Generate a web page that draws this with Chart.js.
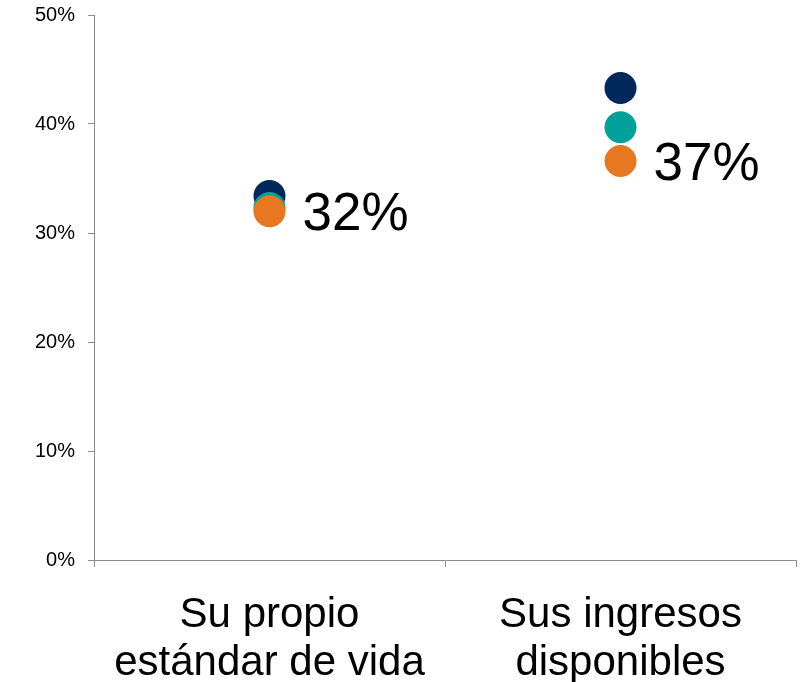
<!DOCTYPE html>
<html>
<head>
<meta charset="utf-8">
<script src="https://cdn.jsdelivr.net/npm/chart.js@4"></script>
<style>
  html, body { margin: 0; padding: 0; background: #fff; }
  #wrap { width: 805px; height: 682px; position: relative; }
</style>
</head>
<body>
<div id="wrap"><canvas id="c"></canvas></div>
<script>
const categories = [['Su propio', 'estándar de vida'], ['Sus ingresos', 'disponibles']];
const seriesNavy = [33.4, 43.3];
const seriesTeal = [32.3, 39.7];
const seriesOrange = [32.0, 36.6];
const labelValues = ['32%', '37%'];
const yTicks = [0, 10, 20, 30, 40, 50];

const FONT = "'Liberation Sans', Arial, sans-serif";

const dataLabelPlugin = {
  id: 'dataLabels',
  afterDatasetsDraw(chart) {
    const ctx = chart.ctx;
    const idx = chart.data.datasets.findIndex(d => d.id === 'orange');
    const meta = chart.getDatasetMeta(idx);
    ctx.save();
    ctx.font = '53px ' + FONT;
    ctx.fillStyle = '#000';
    ctx.textAlign = 'left';
    ctx.textBaseline = 'middle';
    meta.data.forEach((pt, i) => {
      ctx.fillText(labelValues[i], pt.x + 33, pt.y + 4);
    });
    ctx.restore();
  }
};

new Chart(document.getElementById('c'), {
  type: 'line',
  data: {
    labels: categories,
    datasets: [
      { id: 'navy', label: 'A', data: seriesNavy, backgroundColor: '#00285a', borderColor: '#00285a', order: 3 },
      { id: 'teal', label: 'B', data: seriesTeal, backgroundColor: '#00a09b', borderColor: '#00a09b', order: 2 },
      { id: 'orange', label: 'C', data: seriesOrange, backgroundColor: '#e87722', borderColor: '#e87722', order: 1 }
    ].map(d => Object.assign(d, { showLine: false, pointRadius: 16, pointHoverRadius: 16, pointBorderWidth: 0, pointBackgroundColor: d.backgroundColor, clip: false }))
  },
  options: {
    responsive: true,
    maintainAspectRatio: false,
    animation: false,
    events: [],
    layout: { autoPadding: false, padding: { top: 15, right: 9, left: 0, bottom: 0 } },
    plugins: { legend: { display: false }, tooltip: { enabled: false } },
    scales: {
      x: {
        offset: true,
        grid: { offset: true, drawOnChartArea: false, drawTicks: true, tickLength: 7, color: '#8c8c8c', lineWidth: 1 },
        border: { display: true, color: '#8c8c8c', width: 1 },
        ticks: { color: '#000', font: { family: FONT, size: 42, lineHeight: 1.13 }, padding: 25, maxRotation: 0, autoSkip: false },
        afterFit(scale) { scale.height = 122; scale.paddingLeft = 0; scale.paddingRight = 0; }
      },
      y: {
        min: 0, max: 50,
        afterBuildTicks(scale) { scale.ticks = yTicks.map(v => ({ value: v })); },
        grid: { drawOnChartArea: false, drawTicks: true, tickLength: 6, color: '#8c8c8c', lineWidth: 1 },
        border: { display: true, color: '#8c8c8c', width: 1 },
        ticks: { color: '#000', font: { family: FONT, size: 20 }, padding: 13, callback: v => v + '%' },
        afterFit(scale) { scale.width = 94; scale.paddingTop = 0; scale.paddingBottom = 0; }
      }
    }
  },
  plugins: [dataLabelPlugin]
});
</script>
</body>
</html>
